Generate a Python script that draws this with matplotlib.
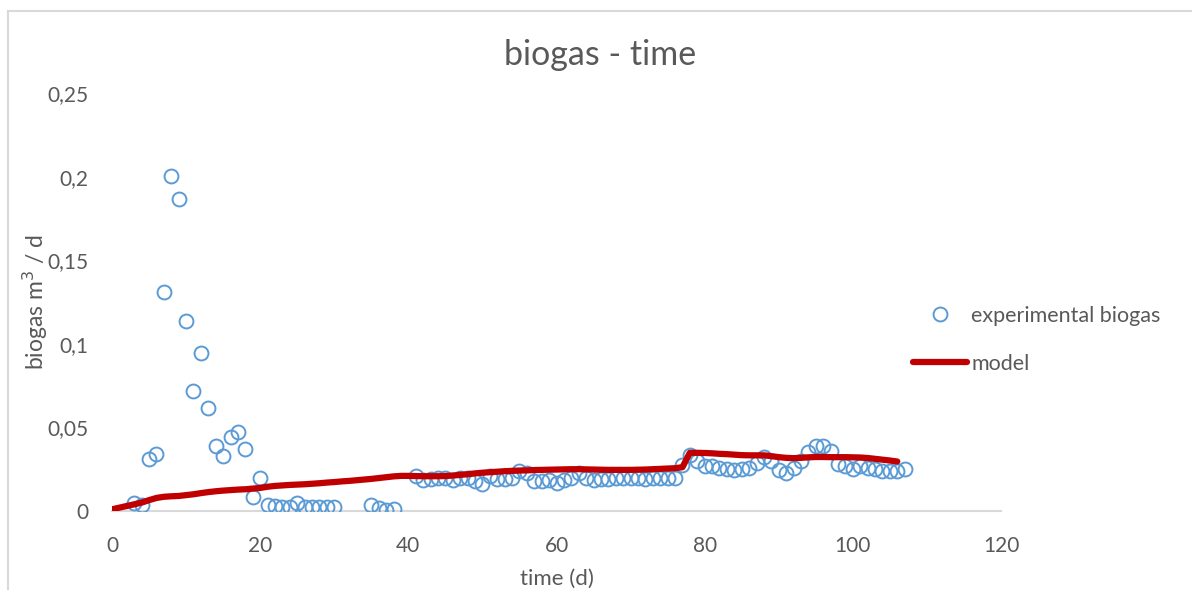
import matplotlib
matplotlib.use("Agg")
import matplotlib.pyplot as plt
from matplotlib.lines import Line2D
from matplotlib.ticker import FuncFormatter, MultipleLocator

# Measured daily biogas production (m3/d)
exp_days = [3, 4, 5, 6, 7, 8, 9, 10, 11, 12, 13, 14, 15, 16, 17, 18, 19, 20,
            21, 22, 23, 24, 25, 26, 27, 28, 29, 30,
            35, 36, 37, 38,
            41, 42, 43, 44, 45, 46, 47, 48, 49, 50, 51, 52, 53, 54, 55, 56, 57,
            58, 59, 60, 61, 62, 63, 64, 65, 66, 67, 68, 69, 70, 71, 72, 73, 74,
            75, 76, 77, 78, 79, 80, 81, 82, 83, 84, 85, 86, 87, 88, 89, 90, 91,
            92, 93, 94, 95, 96, 97, 98, 99, 100, 101, 102, 103, 104, 105, 106, 107]
exp_biogas = [0.0046, 0.0036, 0.031, 0.034, 0.131, 0.2004, 0.1866, 0.1136, 0.0718, 0.0945,
              0.0616, 0.039, 0.033, 0.0443, 0.0473, 0.037, 0.0085, 0.0197,
              0.0036, 0.003, 0.0025, 0.0022, 0.0048, 0.0022, 0.0025, 0.0025, 0.0025, 0.0025,
              0.0036, 0.0018, 0.0008, 0.0012,
              0.021, 0.0185, 0.019, 0.0197, 0.0197, 0.0185, 0.0197, 0.0197, 0.018, 0.0162,
              0.021, 0.019, 0.019, 0.020, 0.024, 0.0227, 0.018, 0.018, 0.0185, 0.017,
              0.0185, 0.020, 0.023, 0.020, 0.0185, 0.019, 0.019, 0.0197, 0.0197, 0.0197,
              0.0197, 0.019, 0.0197, 0.0197, 0.0197, 0.0197, 0.0275, 0.0335, 0.030, 0.027,
              0.027, 0.026, 0.025, 0.0245, 0.025, 0.026, 0.029, 0.032, 0.030, 0.0245,
              0.023, 0.026, 0.030, 0.035, 0.039, 0.039, 0.036, 0.028, 0.027, 0.025,
              0.027, 0.026, 0.025, 0.024, 0.024, 0.024, 0.025]

# Simulated biogas production from the model (m3/d), one value per day 0..106
model_days = list(range(0, 107))
model_biogas = [0.001, 0.002, 0.003, 0.004, 0.005, 0.0065, 0.0078, 0.0085, 0.0088, 0.009,
                0.0095, 0.010, 0.0107, 0.0113, 0.0118, 0.0122, 0.0125, 0.0128, 0.013, 0.0134,
                0.0138, 0.0145, 0.015, 0.0153, 0.0156, 0.0158, 0.016, 0.0163, 0.0166, 0.017,
                0.0173, 0.0177, 0.018, 0.0184, 0.0188, 0.0192, 0.0197, 0.0202, 0.0207, 0.021,
                0.021, 0.0209, 0.0208, 0.0208, 0.0208, 0.0209, 0.0212, 0.0216, 0.022, 0.0225,
                0.0229, 0.0232, 0.0235, 0.0238, 0.024, 0.0242, 0.0243, 0.0245, 0.0246, 0.0247,
                0.0248, 0.0249, 0.025, 0.025, 0.0249, 0.0248, 0.0247, 0.0246, 0.0246, 0.0246,
                0.0246, 0.0247, 0.0248, 0.025, 0.0252, 0.0254, 0.0256, 0.0262, 0.0348, 0.0348,
                0.0347, 0.0345, 0.0342, 0.034, 0.0337, 0.0334, 0.0333, 0.0333, 0.0333, 0.0328,
                0.0322, 0.0318, 0.0316, 0.0318, 0.0321, 0.0323, 0.0323, 0.0322, 0.0322, 0.0322,
                0.0321, 0.032, 0.0317, 0.0312, 0.0307, 0.0302, 0.0296]

TEXT = "#595959"
BLUE = "#5B9BD5"
RED = "#C00000"

plt.rcParams["font.family"] = ["Lato", "DejaVu Sans"]

fig = plt.figure(figsize=(11.92, 5.90), dpi=100)
W, H = 1192, 590
ax = fig.add_axes([112 / W, 1 - 511 / H, (1001 - 112) / W, (511 - 93) / H])

ax.plot(exp_days, exp_biogas, linestyle="none", marker="o", markersize=10,
        markerfacecolor="none", markeredgecolor=BLUE, markeredgewidth=1.4,
        label="experimental biogas", zorder=3)
ax.plot(model_days, model_biogas, color=RED, linewidth=4.5,
        solid_capstyle="round", label="model", zorder=4)

ax.set_xlim(0, 120)
ax.set_ylim(0, 0.25)
ax.xaxis.set_major_locator(MultipleLocator(20))
ax.yaxis.set_major_locator(MultipleLocator(0.05))


def comma_fmt(v, pos):
    s = f"{v:.2f}".rstrip("0").rstrip(".")
    return s.replace(".", ",")


ax.yaxis.set_major_formatter(FuncFormatter(comma_fmt))
ax.xaxis.set_major_formatter(FuncFormatter(lambda v, p: f"{int(round(v))}"))

for side in ("top", "right", "left"):
    ax.spines[side].set_visible(False)
ax.spines["bottom"].set_color("#D9D9D9")
ax.spines["bottom"].set_linewidth(1.5)
ax.spines["bottom"].set_zorder(1)

ax.tick_params(axis="both", length=0, labelsize=15, colors=TEXT)
ax.tick_params(axis="y", pad=17)
ax.tick_params(axis="x", pad=18)

# chart title centred on the whole figure
fig.text(600 / W, 1 - 55 / H, "biogas - time", fontsize=24.5, color=TEXT,
         ha="center", va="center")
ax.set_xlabel("time (d)", fontsize=16, color=TEXT, labelpad=9)
ax.set_ylabel("biogas m$^3$ / d", fontsize=16.5, color=TEXT, labelpad=-2)

leg = fig.legend(handles=ax.get_lines(), loc="center left",
                 bbox_to_anchor=(913 / W, 1 - 340 / H), bbox_transform=fig.transFigure,
                 frameon=False, fontsize=15.5, labelcolor=TEXT, handlelength=2.5,
                 handletextpad=0.2, labelspacing=1.3, borderpad=0.0, borderaxespad=0.0)

# light chart-area border
fig.add_artist(Line2D([8 / W, 1.0], [1 - 11 / H, 1 - 11 / H], transform=fig.transFigure,
                      color="#D9D9D9", linewidth=1.5))
fig.add_artist(Line2D([8 / W, 8 / W], [0.0, 1 - 11 / H], transform=fig.transFigure,
                      color="#D9D9D9", linewidth=1.5))

fig.savefig("out.png", dpi=100)
